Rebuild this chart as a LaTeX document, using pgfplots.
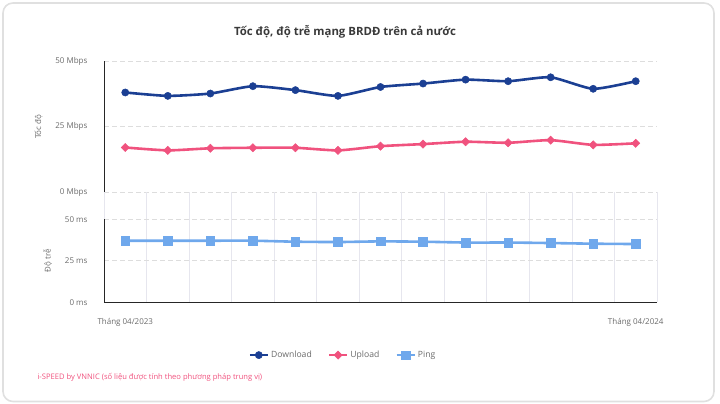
\documentclass[border=0pt]{standalone}
\usepackage{pgfplots}
\pgfplotsset{compat=1.18}
\usepackage{fontspec}
\setmainfont{Open Sans}

\definecolor{dl}{HTML}{1B3F93}
\definecolor{ul}{HTML}{F0527E}
\definecolor{pg}{HTML}{6FA8EC}
\definecolor{gridc}{HTML}{E6E6EE}
\definecolor{hgrid}{HTML}{DDDDDD}
\definecolor{tickc}{HTML}{6A6A6A}
\definecolor{titlec}{HTML}{3A3A3A}

\pgfplotsset{
  panel/.style={
    scale only axis, width=553pt,
    xmin=-0.5, xmax=12.5, clip=false,
    axis lines=left, axis line style={-, black!85, line width=0.9pt},
    major tick length=0pt, minor tick length=0pt,
    minor xtick={-0.5,0.5,...,12.5},
    xminorgrids=true, minor x grid style={gridc, line width=0.8pt},
    ymajorgrids=true, major y grid style={hgrid, dashed, dash pattern=on 5pt off 3pt, line width=0.7pt},
    yticklabel style={font=\fontsize{8}{9}\selectfont, text=tickc, xshift=-13pt},
    xticklabel style={font=\fontsize{8}{9}\selectfont, text=tickc, yshift=-13pt},
    ylabel style={font=\fontsize{8}{9}\selectfont, text=tickc},
    ylabel shift=6pt,
    every axis plot/.append style={line width=2.6pt, smooth, tension=0.35},
  },
  dlst/.style={dl, mark=*, mark size=3.6pt, mark options={solid, line width=0.5pt}},
  ulst/.style={ul, mark=square*, mark size=2.9pt, mark options={solid, line width=0.5pt, rotate=45}},
  pgst/.style={pg, mark=square*, mark size=4.3pt, mark options={solid, line width=0.5pt}},
}

\begin{document}
\begin{tikzpicture}[x=1pt,y=1pt]
\useasboundingbox (0,0) rectangle (720,404);
\draw[black!12, line width=1.6pt, rounded corners=10pt] (3,2.5) rectangle (714,401);

\node[font=\bfseries\fontsize{11.4}{13}\selectfont, text=titlec] at (345,372) {Tốc độ, độ trễ mạng BRDĐ trên cả nước};

% speed panel
\begin{axis}[panel,
  at={(104pt,211.7pt)}, anchor=south west, height=131pt,
  ymin=0, ymax=50, ytick={0,25,50}, yticklabels={0 Mbps,25 Mbps,50 Mbps},
  x axis line style={draw=none}, xtick=\empty,
  ylabel={Tốc độ},
]
\addplot[dlst] coordinates {
(0,38.1) (1,36.8) (2,37.7) (3,40.5) (4,39.0) (5,36.8) (6,40.2)
(7,41.5) (8,43.0) (9,42.4) (10,43.9) (11,39.5) (12,42.4)};
\addplot[ulst] coordinates {
(0,17.1) (1,16.0) (2,16.8) (3,17.0) (4,17.0) (5,16.0) (6,17.6)
(7,18.4) (8,19.3) (9,18.9) (10,19.9) (11,18.1) (12,18.7)};
\end{axis}

% latency panel
\begin{axis}[panel,
  at={(104pt,101.7pt)}, anchor=south west, height=110pt,
  ymin=0, ymax=66.27, ytick={0,25,50}, yticklabels={0 ms,25 ms,50 ms},
  y axis line style={draw=none},
  xtick={0,12}, xticklabels={Tháng 04/2023,Tháng 04/2024},
  ylabel={Độ trễ}, ylabel style={at={(ticklabel cs:0.377)}},
  legend columns=3,
  legend style={at={(axis description cs:0.432,-0.48)}, anchor=center, draw=none,
    font=\fontsize{8.6}{10}\selectfont, text=tickc,
    /tikz/every even column/.append style={column sep=14pt}},
  legend image code/.code={
    \draw[mark repeat=2, mark phase=2, line width=2.6pt] plot coordinates {(0pt,0pt) (9pt,0pt) (18pt,0pt)};},
]
\draw[black!85, line width=0.9pt] (axis cs:-0.5,0) -- (axis cs:-0.5,50);
\addlegendimage{dlst}
\addlegendentry{Download}
\addlegendimage{ulst}
\addlegendentry{Upload}
\addplot[pgst] coordinates {
(0,37.1) (1,37.1) (2,37.1) (3,37.1) (4,36.5) (5,36.3) (6,36.7)
(7,36.5) (8,36.0) (9,36.0) (10,35.7) (11,35.3) (12,35.1)};
\addlegendentry{Ping}
\end{axis}

\node[anchor=west, font=\fontsize{7.6}{9}\selectfont, text=ul] at (34,27)
  {i-SPEED by VNNIC (số liệu được tính theo phương pháp trung vị)};
\end{tikzpicture}
\end{document}
